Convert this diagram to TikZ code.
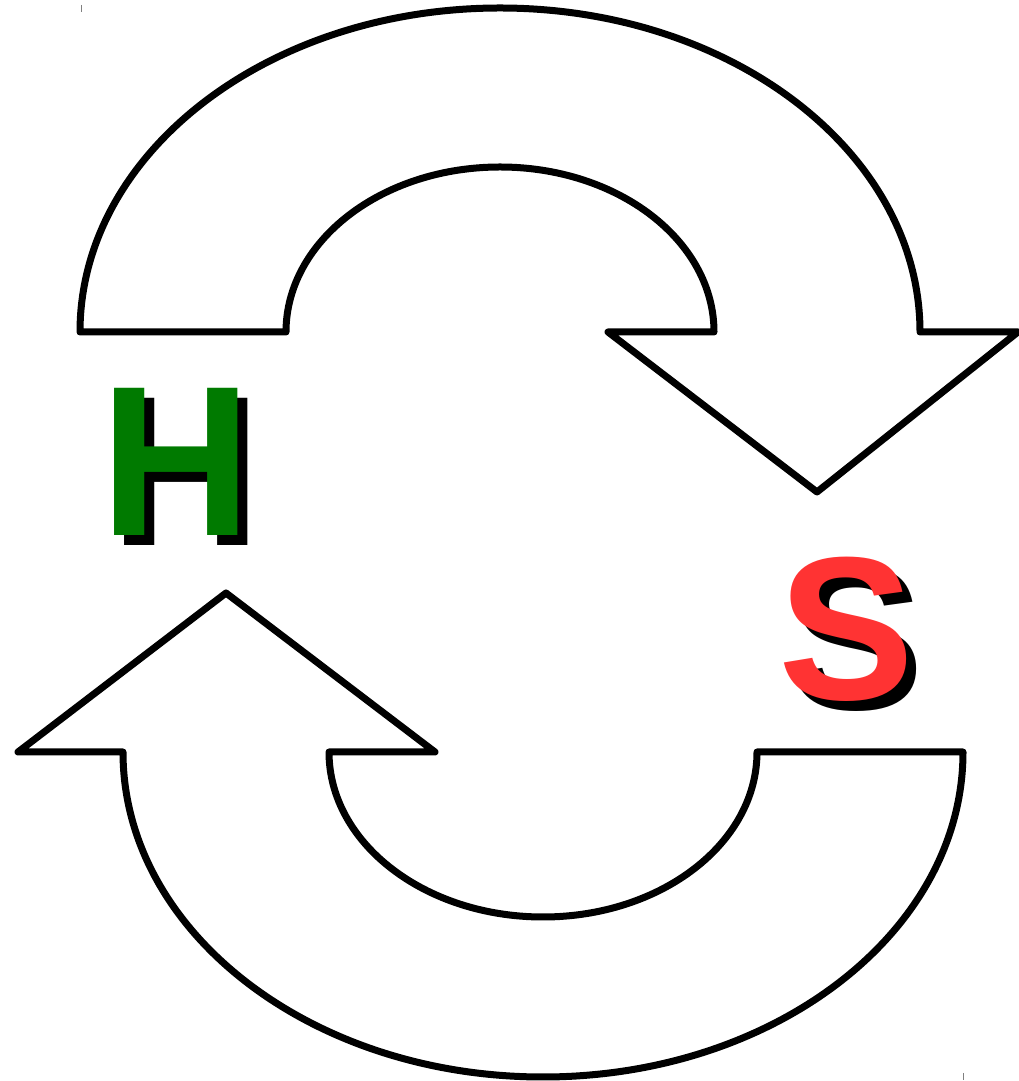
\documentclass[tikz,border=0pt]{standalone}
\usepackage{fontspec}
\setmainfont{Liberation Sans}
\definecolor{hgreen}{HTML}{007A00}
\definecolor{sred}{HTML}{FF3333}
\begin{document}
\begin{tikzpicture}[x=1pt,y=1pt,
  arrowshape/.style={draw=black,line width=7pt,line join=round,fill=white},
  letter/.style={inner sep=0pt,outer sep=0pt,anchor=base,font=\fontsize{204}{204}\selectfont\bfseries},
  bigletter/.style={letter,font=\fontsize{214}{214}\selectfont\bfseries,xscale=0.98},
  tick/.style={draw=gray,line width=1pt}]
\useasboundingbox (0,0) rectangle (1018,1081);
% top arrow
\draw[arrowshape] (80,749) arc[start angle=180,end angle=0,x radius=420,y radius=324]
  -- (1018,749) -- (817,589) -- (608,749) -- (714,749)
  arc[start angle=0,end angle=180,x radius=214,y radius=165] -- cycle;
% bottom arrow
\draw[arrowshape] (123,329) arc[start angle=180,end angle=360,x radius=420,y radius=325]
  -- (757,329) arc[start angle=360,end angle=180,x radius=214,y radius=165]
  -- (435,329) -- (226,488) -- (18,329) -- cycle;
% letters
\node[bigletter,text=black] (hs) at (186.5,535) {H};
\node[bigletter,text=hgreen] (h) at (176.5,545) {H};
\node[letter,text=black] (ss) at (856.5,371) {S};
\node[letter,text=sred] (s) at (846.5,381) {S};
% ticks
\coordinate (t1a) at (81,1076); \coordinate (t1b) at (81,1069);
\coordinate (t2a) at (963,8); \coordinate (t2b) at (963,1);
\draw[tick] (t1a) -- (t1b);
\draw[tick] (t2a) -- (t2b);
\end{tikzpicture}
\end{document}
